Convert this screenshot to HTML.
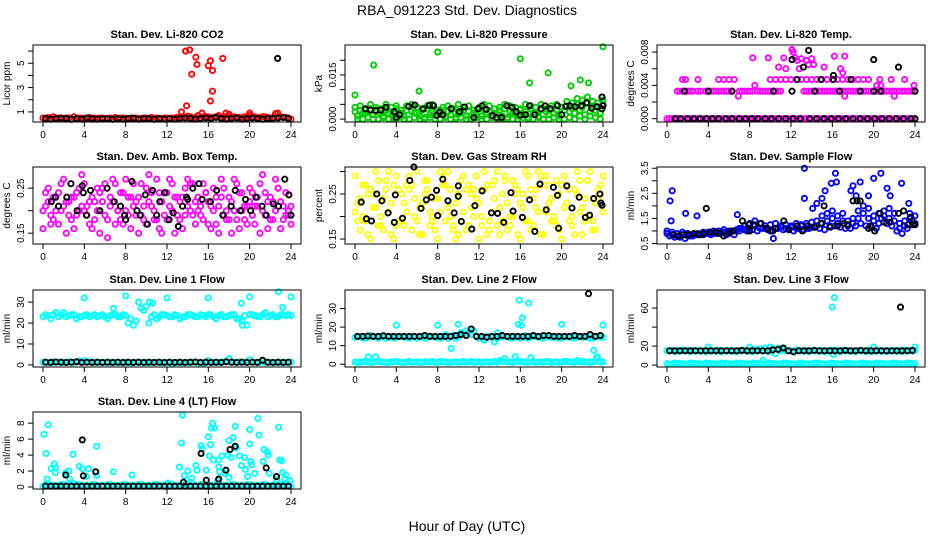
<!DOCTYPE html>
<html><head><meta charset="utf-8"><style>
body{margin:0;background:#fff;}
svg{display:block;font-family:"Liberation Sans",Arial,sans-serif;}
</style></head><body>
<svg id="fig" width="936" height="540" viewBox="0 0 936 540" xmlns="http://www.w3.org/2000/svg">
<rect width="936" height="540" fill="#fff"/>
<text x="467" y="15" font-size="14" text-anchor="middle">RBA_091223  Std. Dev. Diagnostics</text>
<text x="467" y="531" font-size="14" text-anchor="middle">Hour of Day (UTC)</text>
</svg>
<script>
const xTicks = [0,4,8,12,16,20,24];
const gridA = Array.from({length:49},(_,i)=>i*0.5);
const gridB = Array.from({length:48},(_,i)=>0.25+i*0.5);

// Panel 1 CO2
const co2RedA=[0.5,0.55,0.6,0.5,0.45,0.5,0.6,0.5,0.45,0.55,0.5,0.5,0.45,0.5,0.55,0.5,0.45,0.5,0.5,0.45,0.5,0.55,0.5,0.45,0.5,0.5,0.55,0.6,0.65,0.5,0.7,0.6,0.6,0.55,0.7,0.6,0.8,0.6,0.55,0.6,0.7,0.6,0.55,0.6,0.5,0.85,0.6,0.55,0.4];
const co2RedB=[0.4,0.45,0.5,0.45,0.5,0.4,0.45,0.5,0.45,0.4,0.45,0.5,0.45,0.4,0.45,0.5,0.45,0.4,0.45,0.5,0.45,0.4,0.45,0.5,0.45,0.5,0.55,0.5,0.6,0.55,0.5,0.6,0.5,0.6,0.55,0.5,0.6,0.55,0.5,0.6,0.55,0.5,0.6,0.55,0.5,0.6,0.55,0.5];
const co2OutX=[13.4,13.9,13.8,14.2,14.4,14.8,14.9,15.4,16.0,16.2,16.2,16.4,16.4,17.4,17.7,20.0,22.7];
const co2OutY=[1.0,1.5,6.0,6.1,4.1,5.5,4.9,0.9,4.8,5.2,1.9,4.4,2.7,5.4,0.9,0.9,0.9];
const co2BlackB=[0.45,0.4,0.45,0.5,0.45,0.4,0.45,0.4,0.5,0.45,0.4,0.45,0.45,0.4,0.45,0.4,0.45,0.5,0.4,0.45,0.45,0.4,0.45,0.4,0.45,0.4,0.45,0.5,0.45,0.4,0.45,0.5,0.45,0.55,0.45,0.4,0.45,0.5,0.4,0.45,0.5,0.45,0.4,0.45,0.45,0.5,0.55,0.45];
const co2BlackOutX=[22.7], co2BlackOutY=[5.4];

// Panel 2 pressure
const prGA=[.004,.0045,.003,.005,.004,.0035,.005,.004,.0045,.003,.0045,.005,.004,.0035,.0045,.005,.003,.004,.0045,.0035,.005,.004,.0045,.003,.004,.005,.0045,.0035,.004,.005,.0045,.004,.0035,.005,.0045,.004,.005,.0035,.0045,.005,.004,.006,.0055,.007,.0065,.0075,.006,.0055,.0065];
const prGB=[.001,.002,.0005,.0015,0,.001,.002,.0005,.0015,.001,0,.002,.001,.0005,.0015,.002,0,.001,.0015,.0005,.002,.001,0,.0015,.001,.002,.0005,.0015,.001,0,.002,.001,.0015,.0005,.002,.001,0,.0015,.002,.001,.003,.0025,.002,.003,.0015,.0025,.003,.002];
const prGC=[.0025,.003,.002,.0035,.0025,.002,.003,.0025,.0035,.002,.003,.0025,.002,.003,.0035,.0025,.002,.003,.0025,.0035,.002,.003,.0025,.002,.0035,.003,.0025,.002,.003,.0035,.0025,.002,.003,.0025,.0035,.002,.003,.0025,.0035,.003,.004,.0045,.0035,.005,.004,.0055,.0045,.004,.005];
const prGD=[0,0,.0005,0,0,.0005,0,0,.0005,0,0,.0005,0,0,.0005,0,0,.0005,0,0,.0005,0,0,.0005,0,0,.0005,0,0,.0005,0,0,.0005,0,0,.0005,0,0,.0005,0,0,.0005,0,.001,0,.001,.0005,0];
const prOutX=[0,1.8,6.2,8.0,16.0,16.9,18.7,20.9,21.8,22.6,24];
const prOutY=[.0082,.0184,.0095,.0228,.0205,.0123,.0157,.0113,.0133,.0123,.0246];
const prBlackX=[1.0,1.5,2.0,2.5,3.0,3.8,4.0,4.3,5.2,5.8,6.6,7.2,7.6,7.9,8.2,8.5,9.3,10.1,10.6,11.5,11.9,12.3,12.7,13.3,13.7,14.2,14.7,15.2,15.6,16.0,16.5,16.9,17.4,18.0,18.4,18.9,19.6,20.0,20.4,20.8,21.3,21.9,22.4,22.9,23.4,23.9,23.9,24.0];
const prBlackY=[.0035,.003,.003,.003,.004,.0025,.0005,.0015,.0043,.0048,.0035,.0047,.0045,.0012,.0024,.0015,.0035,.0025,.0041,.0005,.0035,.0045,.0033,.0012,.0005,.0005,.0045,.0040,.0025,.0013,.0015,.0045,.0015,.0035,.0045,.0035,.0045,.0015,.0043,.0045,.0042,.0045,.0055,.0037,.0042,.0035,.0075,.0045];

// Panel 3 temp
const tpZeroA=[0,0,0,0,0,0,0,0,0,0,0,0,0,0,0,0,0,0,0,0,0,0,0,0,0,0,0,0,0,0,0,0,0,0,0,0,0,0,0,0,0,0,0,0,0,0,0,0,0];
const tpZeroB=[0,0,0,0,0,0,0,0,0,0,0,0,0,0,0,0,0,0,0,0,0,0,0,0,0,0,0,0,0,0,0,0,0,0,0,0,0,0,0,0,0,0,0,0,0,0,0,0];
const tpMidA=[null,null,.0033,.0033,.0033,.0033,.0033,null,.0033,.0033,.0033,.0033,.0033,null,.0033,.0033,.0033,null,.0033,.0033,.0033,.0033,.0033,null,null,null,null,.0033,.0033,.0033,.0033,.0033,.0033,.0033,.0033,.0033,.0033,.0033,.0033,.0033,.0033,.0033,.0033,.0033,.0033,.0033,.0033,.0033,.0033];
const tpMidB=[null,null,.0033,.0033,.0033,null,.0033,.0033,.0033,.0033,.0033,.0033,.0033,null,.0033,.0033,.0033,.0033,.0033,.0033,.0033,.0033,null,null,null,null,.0033,.0033,.0033,.0033,.0033,.0033,.0033,.0033,.0033,.0033,.0033,.0033,.0033,.0033,.0033,.0033,.0033,.0033,.0033,.0033,.0033,.0033];
const tpUpX=[1.5,1.8,3.0,5.0,5.5,6.0,6.5,10.0,10.5,11.0,11.5,12.0,12.5,13.0,13.5,14.0,14.5,15.0,15.5,16.0,16.5,17.0,17.5,18.0,18.5,19.0,19.5,20.6,21.7,23.0,11.3,12.1,12.2,12.4,13.0,12.6,13.5,13.7,14.0,14.2,10.8,11.5,12.8,15.2,16.2,16.8,9.8,8.3,17.0,6.9,17.2,22.0,8.5,20.3,20.7,23.9,17.2];
const tpUpY=[.0047,.0047,.0047,.0047,.0047,.0047,.0047,.0047,.0047,.0047,.0047,.0047,.0047,.0047,.0047,.0047,.0047,.0047,.0047,.0047,.0047,.0047,.0047,.0047,.0047,.0047,.0047,.0047,.0047,.0047,.0073,.0083,.008,.0073,.0072,.007,.007,.0065,.0072,.0065,.0062,.006,.006,.0062,.0075,.006,.0073,.0073,.0055,.0027,.0027,.0027,.004,.004,.004,.004,.0075];
const tpBlackX=[0.8,1.3,2.0,2.6,3.2,3.8,4.4,5.0,5.7,6.3,7.0,7.6,8.2,8.8,9.5,10.1,10.8,11.5,12.2,12.9,13.8,14.5,15.2,15.9,16.6,17.3,18.0,18.7,19.4,20.1,20.8,21.5,22.2,22.9,23.6,24.0,1.7,4.0,6.3,10.3,12.1,14.3,16.7,18.7,20.0,20.7,24.0,12.1,13.2,13.7,12.6,14.9,16.1,16.1,17.8,20.0,22.4];
const tpBlackY=[0,0,0,0,0,0,0,0,0,0,0,0,0,0,0,0,0,0,0,0,0,0,0,0,0,0,0,0,0,0,0,0,0,0,0,0,.0033,.0033,.0033,.0033,.0033,.0033,.0033,.0033,.0033,.0033,.0033,.0071,.0062,.0082,.0047,.0047,.0052,.0047,.0047,.0071,.0062];

// Panel 4 amb box temp
const abA=[.20,.22,.18,.24,.21,.19,.23,.25,.20,.17,.22,.24,.19,.21,.26,.18,.20,.23,.22,.19,.25,.21,.18,.22,.24,.20,.19,.23,.21,.26,.20,.18,.22,.25,.21,.19,.23,.20,.24,.18,.22,.21,.26,.19,.23,.20,.22,.24,.21];
const abB=[.16,.25,.23,.17,.27,.22,.16,.20,.26,.22,.18,.15,.26,.23,.17,.24,.27,.16,.19,.26,.17,.24,.27,.15,.18,.26,.23,.16,.27,.19,.23,.26,.17,.20,.15,.25,.18,.27,.16,.21,.25,.17,.15,.24,.18,.27,.16,.19,.17];
const abC=[.21,.19,.23,.20,.22,.18,.24,.21,.19,.23,.20,.25,.18,.22,.20,.24,.19,.21,.23,.18,.22,.20,.24,.19,.21,.23,.18,.25,.20,.22,.19,.24,.21,.17,.23,.20,.22,.18,.24,.21,.19,.23,.20,.22,.18,.25,.21,.19];
const abD=[.24,.17,.20,.26,.15,.23,.19,.28,.21,.16,.25,.22,.14,.27,.20,.17,.23,.26,.15,.21,.28,.18,.16,.24,.27,.15,.22,.19,.26,.17,.21,.24,.16,.23,.27,.18,.15,.26,.20,.17,.24,.21,.28,.16,.22,.25,.18,.20];
const abBlackX=[0.8,1.2,1.5,2.3,2.7,3.3,3.8,3.9,4.2,4.6,5.5,6.2,6.9,7.5,7.9,8.0,8.6,9.1,9.4,9.9,10.1,10.6,11.0,11.3,11.8,12.2,12.6,13.1,13.5,13.9,14.0,14.5,15.1,15.4,16.2,16.8,17.4,18.2,18.6,19.1,19.6,20.1,20.6,21.2,21.6,22.3,22.8,23.4,23.8,24.0];
const abBlackY=[.22,.23,.21,.23,.26,.20,.255,.24,.19,.245,.20,.25,.22,.21,.19,.18,.265,.20,.19,.235,.17,.245,.19,.22,.24,.18,.195,.165,.21,.23,.225,.25,.26,.225,.22,.245,.19,.21,.245,.20,.225,.20,.23,.21,.19,.215,.21,.27,.235,.19];

// Panel 5 RH
const rhA=[.21,.24,.19,.26,.22,.20,.28,.23,.18,.25,.21,.27,.19,.23,.26,.20,.24,.29,.22,.18,.25,.21,.27,.20,.23,.26,.19,.24,.22,.28,.20,.25,.23,.19,.26,.22,.29,.21,.24,.18,.27,.23,.20,.25,.22,.28,.19,.24,.21];
const rhB=[.29,.17,.27,.15,.30,.18,.26,.16,.29,.19,.27,.17,.30,.16,.28,.19,.15,.27,.30,.17,.16,.29,.18,.26,.15,.30,.17,.28,.16,.29,.18,.27,.15,.30,.17,.26,.16,.29,.19,.28,.15,.27,.18,.30,.16,.28,.17,.26,.29];
const rhC=[.23,.20,.25,.22,.18,.24,.21,.27,.19,.23,.26,.20,.22,.25,.18,.24,.21,.27,.20,.23,.19,.26,.22,.24,.20,.27,.21,.18,.25,.23,.20,.26,.22,.19,.24,.21,.27,.23,.20,.25,.22,.19,.26,.21,.24,.20,.23,.25];
const rhD=[.19,.27,.16,.25,.28,.17,.30,.15,.26,.18,.29,.24,.16,.28,.21,.17,.30,.19,.26,.15,.28,.17,.25,.29,.18,.16,.27,.30,.19,.17,.28,.16,.25,.29,.18,.30,.16,.27,.19,.17,.29,.26,.16,.28,.19,.30,.17,.27];
const rhBlackX=[0.6,1.1,1.6,2.1,2.6,3.2,3.8,3.9,4.6,5.3,5.7,6.4,6.9,7.4,7.9,8.0,8.5,9.0,9.6,10.0,10.0,10.3,11.3,11.6,12.3,13.2,13.8,14.4,15.1,15.3,16.2,16.9,17.4,17.9,18.5,19.2,19.6,19.7,20.5,21.0,21.7,22.3,22.7,23.1,23.7,23.8,23.9];
const rhBlackY=[.232,.195,.19,.25,.235,.208,.187,.248,.196,.28,.31,.218,.237,.243,.258,.202,.283,.235,.208,.268,.245,.189,.172,.224,.257,.208,.207,.187,.253,.212,.198,.237,.167,.272,.215,.265,.247,.174,.268,.219,.243,.198,.203,.24,.25,.23,.225];

// Panel 6 sample flow
const sfA=[.9,.85,.8,.85,.8,.8,.85,.85,.9,.9,.9,.95,.9,.85,1.0,1.05,1.1,1.2,1.1,1.1,1.0,1.1,1.15,1.1,1.15,1.1,1.2,1.1,1.15,1.2,1.3,1.4,1.5,1.3,1.4,1.2,1.3,1.5,1.7,1.5,1.4,1.3,1.6,1.5,1.4,1.1,1.2,1.5,1.3];
const sfB=[.8,.75,.75,.7,.8,.85,.85,.9,.85,.9,.95,.85,1.0,1.05,1.1,1.0,1.05,1.0,1.1,1.05,1.0,1.1,1.05,1.1,1.0,1.1,1.05,1.1,1.15,1.1,1.05,1.2,1.2,1.15,1.1,1.1,1.2,1.3,1.2,1.15,1.1,1.5,1.3,1.2,1.0,.9,1.1,1.4];
const sfC=[1.0,.95,.9,.95,.9,.85,.9,.95,.95,1.0,1.0,1.05,1.0,1.0,1.1,1.2,1.3,1.4,1.3,1.2,1.25,1.3,1.2,1.25,1.2,1.3,1.25,1.3,1.35,1.4,1.6,1.7,1.8,1.6,1.7,1.4,1.5,1.8,2.0,1.9,1.6,1.7,1.8,1.9,1.7,1.3,1.4,1.7,1.6];
const sfOutX=[0.3,0.5,0.4,1.8,2.9,6.8,13.3,13.3,14.1,14.5,15.0,15.3,15.9,16.3,16.4,17.8,18.0,18.7,18.3,19.5,20.0,20.7,21.3,21.6,22.7,23.4,10.3];
const sfOutY=[2.2,2.6,1.4,1.7,1.6,1.65,3.5,2.3,1.9,2.1,2.3,2.6,2.9,3.3,2.95,2.6,2.8,2.95,2.4,2.4,3.1,3.3,2.7,2.4,2.9,2.1,0.7];
const sfBlackX=[0.6,1.1,1.6,2.1,2.6,3.1,3.5,3.8,4.2,4.7,5.1,5.5,6.1,6.4,7.3,7.9,8.0,8.4,9.1,9.7,10.2,10.5,11.3,11.8,12.6,13.1,13.6,14.3,14.9,15.2,15.8,16.5,17.1,17.5,18.0,18.4,18.7,19.5,19.7,20.1,20.6,21.0,21.6,22.4,22.9,23.3,23.6,23.8,24.0];
const sfBlackY=[.85,.8,.85,.85,.9,.85,.9,1.9,.95,.95,.9,.8,.95,1.0,1.4,1.25,1.0,1.25,1.3,1.1,1.0,1.1,1.4,1.05,1.2,1.0,1.2,1.15,1.3,2.0,1.15,1.2,1.3,1.25,2.2,2.2,2.2,1.1,1.2,1.0,1.7,1.35,1.35,1.7,1.8,1.25,1.55,1.25,1.25];

// Panel 7 line 1
const l1HiA=[23,23.5,24,23,25,23.5,24,23,23.5,23,24,23.5,23,23.5,24,23,23.5,22,21,27,28,23,22,24,23.5,23,23.5,23,24,23.5,23,23.5,24,23,23.5,23,23.5,24,22,23.5,24,23.5,23,25,23.5,23,24,23.5,23.5];
const l1HiB=[24,22,25,24,23,24,22,23,24,23.5,23,24,22,24,23,24,20,19,30,26,20,24,23,24,23,24,22,23,24,23,24,23,24,22,24,23,24,22,21,19,24,23,24,23,24,23,24,24];
const l1LoA=[1.3,1,1.5,1.3,1.2,1.5,1.2,1.8,2,1.5,1.2,1.3,1.2,1.1,1.3,1,1.2,1,1.3,1.2,1.1,1.2,1.3,1,1.2,0.5,1.1,1,1.2,1.3,1,0.8,2,1.2,1.3,1.5,3,1.2,1.5,1.3,2.5,1.3,1.2,1.3,1.2,1.1,1.3,1.2,1.3];
const l1OutX=[4,6.8,8,12,16,19.2,19.3,20,22.8,23.2,24,10.3,10.6];
const l1OutY=[32,27,33,32,32,29.5,19,32.5,35,27.5,32.5,30,29.5];
const l1BlackB=[1.3,1.2,1.4,1.3,1.2,1.3,1.5,1.2,1.3,1.2,1.3,1.2,1.3,1.2,1.3,1.2,1.3,1.2,1.3,1.2,1.3,1.2,1.3,1.2,1.3,1.2,1.3,1.2,1.3,1.4,1.2,1.3,1.2,1.3,1.2,1.5,1.3,1.2,1.3,1.2,1.3,1.2,2.2,1.3,1.2,1.3,1.2,1.3];

// Panel 8 line 2
const l2HiA=[14.5,15,14,15.5,14.5,15,14,15,14.5,15,14.5,15,14,15,14.5,15,14.5,15,14,15.5,15,16,17,18,14,13,15,12,14.5,15,14.5,15,14,15.5,14.5,15,14.5,15,14.5,15,14,15,14.5,15,14.5,15,14,15,14.5];
const l2HiB=[15,14,14.5,15,14,15,14.5,14,15,14.5,14,15,14.5,14,15,14.5,14,16,15,14,17,18,16,15,14,15,14.5,14,15,14.5,14,15,14.5,14,15,14.5,14,15,14.5,14,15,14.5,14,15,14.5,14,15,14.5];
const l2LoA=[1.2,1,1.5,1,4,1.2,1,1.3,1.5,1,1.2,1,1.3,1,1.2,1.5,1,1.3,1,1.2,1,1.5,1.2,1,1.3,1.2,1,1.5,2,3,1.2,4,1.5,1.2,3.5,1,1.2,1.5,1,1.3,1.2,1.5,1.2,2,1.5,1.2,1.3,3.5,1.2];
const l2LoB=[1,1.3,1.2,1,1.5,1.2,1,1.3,1.2,1,1.5,1.2,1,1.3,1.2,1,1.5,1.2,1,1.3,1.2,1,1.5,1.2,1,1.3,1.2,1,1.5,1.2,1,1.3,1.2,1,1.5,1.2,1,1.3,1.2,1,1.5,1.2,1,1.3,1.2,1,1.5,1.2];
const l2OutX=[4,8,10,9.3,15.9,16.1,16.2,16.8,13.8,20,23.1,23.4,24,1.3,15.8];
const l2OutY=[21,21,21.5,8.5,34.5,21,25,33,17,21.5,7.5,4,21,4,21.5];
const l2BlackB=[15,15,15.2,15,15,15.3,15,15,15,15,15,15,15,15.5,15,15,15,15,15,15.5,16,15.5,19,15,15,14.5,15,15,15.5,15,15,15,15,15,15.5,15,15.5,15.5,15,15,15,15,15.5,15,15,16,15,15.5];
const l2BlackOutX=[22.6], l2BlackOutY=[38];

// Panel 9 line 3
const l3HiA=[15,15.5,15,16,15,15.5,15,15,15.5,15,16,15,15.5,15,15,15.5,15,16,17,18,15,12,15.5,15,15,16,15,15.5,15,15,15.5,15,16,15,15.5,15,15,15.5,15,16,15,15.5,15,15,15.5,15,16,15,15.5];
const l3LoA=[1.5,1,2,1.5,1,2,1.5,1,2,1.5,1,2,1.5,1,2,1.5,1,2,1.5,1,2,1.5,1,2,1.5,1,2,1.5,1,2,1.5,1,2,1.5,1,2,1.5,1,2,1.5,1,2,1.5,1,2,1.5,1,2,1.5];
const l3LoB=[1,2,1.5,1,2,1.5,1,2,1.5,1,2,1.5,1,2,1.5,1,2,1.5,1,2,1.5,1,2,1.5,1,2,1.5,1,2,1.5,1,2,1.5,1,2,1.5,1,2,1.5,1,2,1.5,1,2,1.5,1,2,1.5];
const l3OutX=[16.2,16.0,4.0,8,10,20,24,9.3,16.1];
const l3OutY=[71,61,19,19,19,19,19,5,11];
const l3BlackB=[15,15,15,15,15,15,15,15,15,15,15,15,15,15,15.5,15,15,15,15,15,16,16.5,18,15,14,15,15,15,15.5,15,15,15,15,15,15.5,15,15,15.5,15,15,15,15,15,15,15,15,15,15.5];
const l3BlackOutX=[22.6], l3BlackOutY=[61];

// Panel 10 line 4
const l4BandA=[.1,.3,.2,.1,.3,.2,.1,.3,.2,.1,.3,.2,.1,.3,.2,.1,.3,.2,.1,.3,.2,.1,.3,.2,.1,.3,.2,.1,.3,.2,.1,.3,.2,.1,.3,.2,.1,.3,.2,.1,.3,.2,.1,.3,.2,.1,.3,.2,.1];
const l4BandB=[.3,.1,.2,.3,.1,.2,.3,.1,.2,.3,.1,.2,.3,.1,.2,.3,.1,.2,.3,.1,.2,.3,.1,.2,.3,.1,.2,.3,.1,.2,.3,.1,.2,.3,.1,.2,.3,.1,.2,.3,.1,.2,.3,.1,.2,.3,.1,.2];
const l4OutX=[0.1,0.3,0.5,0.4,0.8,1.1,1.2,1.2,2.2,2.5,2.6,2.8,2.9,3.5,3.8,4.2,4.4,5.2,5.2,6.8,8.6,12.1,13.2,13.4,13.5,13.7,14,14.4,14.8,14.9,15.3,15.4,15.8,16.0,16.1,16.2,16.3,16.4,16.6,16.5,17.0,17.0,17.3,17.6,17.9,18.0,18.2,18.4,18.6,18.7,19.0,19.2,19.5,19.8,20.0,20.0,20.1,20.2,20.5,20.8,20.9,21.3,21.4,21.7,21.8,21.9,22.8,22.9,23.1,23.2,23.4,23.6,23.9,23.5,22.6,19.6,18.0,17.1,16.9,14.2];
const l4OutY=[6.6,4.2,7.8,1.0,2.3,2.9,1.8,2.4,1.8,2.0,1.0,0.5,4.1,2.6,2.3,1.3,2.3,5.1,1.4,1.9,1.5,0.5,2.5,5.5,9.0,1.4,2.0,1.1,2.7,2.1,5.2,4.8,2.1,6.3,3.9,5.3,7.4,8.0,7.4,3.4,2.5,3.4,3.9,1.7,4.0,5.8,3.7,6.2,7.6,4.9,3.9,2.7,3.7,1.3,7.2,5.4,3.2,2.8,1.7,8.6,6.5,3.2,4.7,4.4,4.0,1.7,7.5,3.4,3.3,1.8,1.0,0.5,0.8,1.5,0.9,2.2,1.2,1.9,0.8,0.6];
const l4BlackB=[.1,.1,.1,.1,.1,.1,.1,.1,.1,.1,.1,.1,.1,.1,.1,.1,.1,.1,.1,.1,.1,.1,.1,.1,.1,.1,.1,.1,.1,.1,.1,.1,.1,.1,.1,.1,.1,.1,.1,.1,.1,.1,.1,.1,.1,.1,.1,.1];
const l4BlackOutX=[3.8,5.1,2.2,3.9,13.6,15.3,15.8,17.0,17.7,18.1,18.6,21.6,22.6];
const l4BlackOutY=[5.9,1.9,1.5,1.4,0.6,4.2,0.85,1.0,2.1,4.7,5.1,2.4,1.3];

const RED='#ff0000',GRN='#00cd00',MAG='#ff00ff',YEL='#ffff00',BLU='#0000ff',CYA='#00ffff',BLK='#000000';
const panels=[
 {name:'co2',title:'Stan. Dev. Li-820 CO2',ylab:'Licor ppm',col:0,row:0,ylo:0.17,yhi:6.5,ticks:[1,2,3,4,5,6],labels:['1','','3','','5',''],
  series:[[RED,gridA,co2RedA],[RED,gridB,co2RedB],[RED,co2OutX,co2OutY],[BLK,gridB,co2BlackB],[BLK,co2BlackOutX,co2BlackOutY]]},
 {name:'pressure',title:'Stan. Dev. Li-820 Pressure',ylab:'kPa',col:1,row:0,ylo:-0.001,yhi:0.0252,ticks:[0,0.005,0.01,0.015,0.02],labels:['0.000','','','0.015',''],
  series:[[GRN,gridA,prGA],[GRN,gridB,prGB],[GRN,gridA,prGC],[GRN,gridB,prGD],[GRN,prOutX,prOutY],[BLK,prBlackX,prBlackY]]},
 {name:'licor-temp',title:'Stan. Dev. Li-820 Temp.',ylab:'degrees C',col:2,row:0,ylo:-0.0004,yhi:0.00885,ticks:[0,0.002,0.004,0.006,0.008],labels:['0.000','','0.004','','0.008'],
  series:[[MAG,gridA,tpZeroA],[MAG,gridB,tpZeroB],[MAG,gridA,tpMidA],[MAG,gridB,tpMidB],[MAG,tpUpX,tpUpY],[BLK,tpBlackX,tpBlackY]]},
 {name:'amb-box-temp',title:'Stan. Dev. Amb. Box Temp.',ylab:'degrees C',col:0,row:1,ylo:0.126,yhi:0.297,ticks:[0.15,0.2,0.25],labels:['0.15','','0.25'],
  series:[[MAG,gridA,abA],[MAG,gridA,abB],[MAG,gridB,abC],[MAG,gridB,abD],[BLK,abBlackX,abBlackY]]},
 {name:'gas-stream-rh',title:'Stan. Dev. Gas Stream RH',ylab:'percent',col:1,row:1,ylo:0.139,yhi:0.31,ticks:[0.15,0.2,0.25,0.3],labels:['0.15','','0.25',''],
  series:[[YEL,gridA,rhA],[YEL,gridA,rhB],[YEL,gridB,rhC],[YEL,gridB,rhD],[BLK,rhBlackX,rhBlackY]]},
 {name:'sample-flow',title:'Stan. Dev. Sample Flow',ylab:'ml/min',col:2,row:1,ylo:0.48,yhi:3.55,ticks:[0.5,1,1.5,2,2.5,3,3.5],labels:['0.5','','1.5','','2.5','','3.5'],
  series:[[BLU,gridA,sfA],[BLU,gridB,sfB],[BLU,gridA,sfC],[BLU,sfOutX,sfOutY],[BLK,sfBlackX,sfBlackY]]},
 {name:'line1-flow',title:'Stan. Dev. Line 1 Flow',ylab:'ml/min',col:0,row:2,ylo:-1,yhi:35.8,ticks:[0,10,20,30],labels:['0','10','20','30'],
  series:[[CYA,gridA,l1HiA],[CYA,gridB,l1HiB],[CYA,gridA,l1LoA],[CYA,l1OutX,l1OutY],[BLK,gridB,l1BlackB]]},
 {name:'line2-flow',title:'Stan. Dev. Line 2 Flow',ylab:'ml/min',col:1,row:2,ylo:-1.5,yhi:40,ticks:[0,10,20,30],labels:['0','10','20','30'],
  series:[[CYA,gridA,l2HiA],[CYA,gridB,l2HiB],[CYA,gridA,l2LoA],[CYA,gridB,l2LoB],[CYA,l2OutX,l2OutY],[BLK,gridB,l2BlackB],[BLK,l2BlackOutX,l2BlackOutY]]},
 {name:'line3-flow',title:'Stan. Dev. Line 3 Flow',ylab:'ml/min',col:2,row:2,ylo:-2,yhi:79,ticks:[0,20,40,60],labels:['0','20','','60'],
  series:[[CYA,gridA,l3HiA],[CYA,gridB,l2HiB],[CYA,gridA,l3LoA],[CYA,gridB,l3LoB],[CYA,l3OutX,l3OutY],[BLK,gridB,l3BlackB],[BLK,l3BlackOutX,l3BlackOutY]]},
 {name:'line4-flow',title:'Stan. Dev. Line 4 (LT) Flow',ylab:'ml/min',col:0,row:3,ylo:-0.25,yhi:9.4,ticks:[0,2,4,6,8],labels:['0','2','4','6','8'],
  series:[[CYA,gridA,l4BandA],[CYA,gridB,l4BandB],[CYA,l4OutX,l4OutY],[BLK,gridB,l4BlackB],[BLK,l4BlackOutX,l4BlackOutY]]}
];

const NS='http://www.w3.org/2000/svg';
const svg=document.getElementById('fig');
const COLL=[33,345,657], ROWT=[45,167,290,412], PW=268, PH=77;
function mk(tag,attrs,parent){const e=document.createElementNS(NS,tag);for(const k in attrs)e.setAttribute(k,attrs[k]);parent.appendChild(e);return e;}

panels.forEach(p=>{
  const L=COLL[p.col], T=ROWT[p.row], B=T+PH;
  const xs=h=>L+10+h*(248/24);
  const ys=v=>B-(v-p.ylo)/(p.yhi-p.ylo)*PH;
  const g=mk('g',{},svg);
  
  
  const marks=mk('g',{fill:'none','stroke-width':'1.9'},g);
  
  
  p.series.forEach(s=>{
    const [c,hx,vy]=s;
    for(let i=0;i<vy.length;i++){
      if(vy[i]===null||vy[i]===undefined||hx[i]===undefined) continue;
      const ci=mk('circle',{cx:xs(hx[i]).toFixed(1),cy:ys(vy[i]).toFixed(1),r:'2.6',stroke:c},marks);
      
      
    }
  });
  const box=mk('rect',{x:L,y:T,width:PW,height:PH,fill:'none',stroke:'#000','stroke-width':'1'},g);
  
  
  const tt=mk('text',{x:L+PW/2,y:T-7,'font-size':'11','font-weight':'bold','text-anchor':'middle'},g);
  tt.textContent=p.title;
  
  
  const xa=mk('g',{},g);
  
  
  mk('line',{x1:xs(0),x2:xs(24),y1:B,y2:B,stroke:'#000'},xa);
  xTicks.forEach(t=>{
    mk('line',{x1:xs(t),x2:xs(t),y1:B,y2:B+5,stroke:'#000'},xa);
    const tx=mk('text',{x:xs(t),y:B+16,'font-size':'10','text-anchor':'middle'},xa);
    tx.textContent=String(t);
    
    
  });
  const ya=mk('g',{},g);
  
  
  mk('line',{x1:L,x2:L,y1:ys(p.ticks[0]),y2:ys(p.ticks[p.ticks.length-1]),stroke:'#000'},ya);
  p.ticks.forEach((t,i)=>{
    const y=ys(t);
    mk('line',{x1:L-5,x2:L,y1:y,y2:y,stroke:'#000'},ya);
    if(p.labels[i]){
      const tx=mk('text',{x:0,y:0,'font-size':'10','text-anchor':'middle',transform:`translate(${L-9},${y}) rotate(-90)`},ya);
      tx.textContent=p.labels[i];
      
      
    }
  });
  const yl=mk('text',{x:0,y:0,'font-size':'10','text-anchor':'middle',transform:`translate(${L-23},${T+PH/2}) rotate(-90)`},g);
  yl.textContent=p.ylab;
  
  
});
</script>
</body></html>
